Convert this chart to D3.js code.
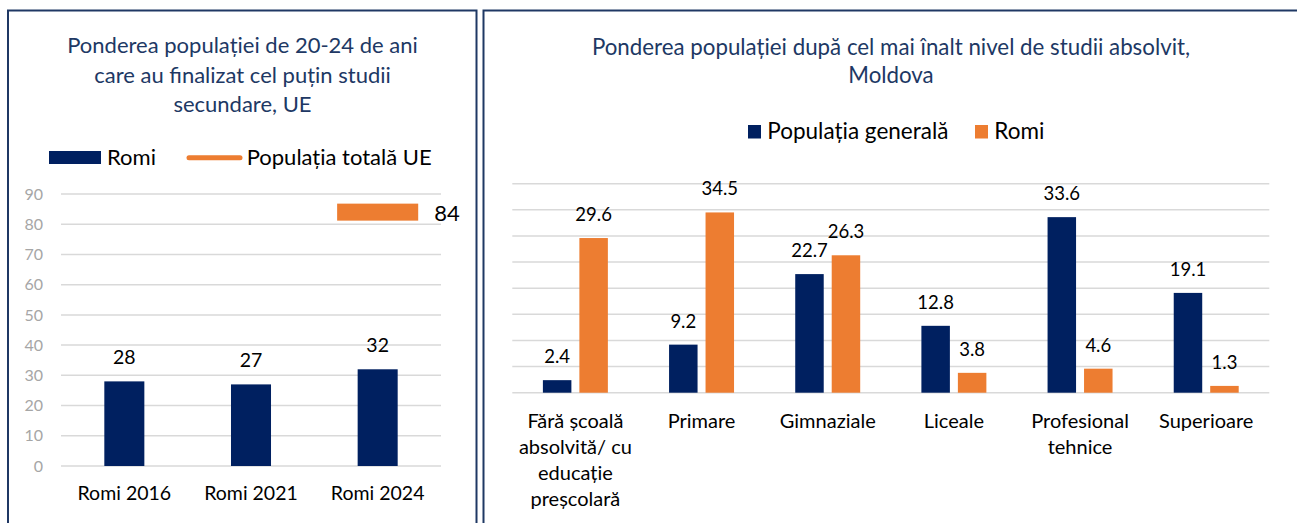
<!DOCTYPE html>
<html>
<head>
<meta charset="utf-8">
<script src="https://cdn.jsdelivr.net/npm/d3@7"></script>
<style>
  html, body { margin: 0; padding: 0; background: #ffffff; }
  svg { display: block; font-family: Lato, "Open Sans", sans-serif; }
</style>
</head>
<body>
<svg id="chart" width="1297" height="523"></svg>
<script>
// ---------- Data: left chart ----------
const leftTitle = ["Ponderea populației de 20-24 de ani", "care au finalizat cel puțin studii", "secundare, UE"];
const leftCategories = ["Romi 2016", "Romi 2021", "Romi 2024"];
const leftRomi = [28, 27, 32];
const euTotalCategory = "Romi 2024";
const euTotalValue = 84;
const leftTicks = [0, 10, 20, 30, 40, 50, 60, 70, 80, 90];
const leftLegend = ["Romi", "Populația totală UE"];

// ---------- Data: right chart ----------
const rightTitle = ["Ponderea populației după cel mai înalt nivel de studii absolvit,", "Moldova"];
const rightCategories = ["Fără școală absolvită/ cu educație preșcolară", "Primare", "Gimnaziale", "Liceale", "Profesional tehnice", "Superioare"];
const rightCategoryLines = [["Fără școală", "absolvită/ cu", "educație", "preșcolară"], ["Primare"], ["Gimnaziale"], ["Liceale"], ["Profesional", "tehnice"], ["Superioare"]];
const rightSeries = ["Populația generală", "Romi"];
const generalPop = [2.4, 9.2, 22.7, 12.8, 33.6, 19.1];
const romiPop = [29.6, 34.5, 26.3, 3.8, 4.6, 1.3];
const rightGrid = [0, 5, 10, 15, 20, 25, 30, 35, 40];

// ---------- Styles ----------
const NAVY = "#002060", ORANGE = "#ED7D31", GRID = "#D9D9D9", TITLE = "#203864", BORDER = "#1F3864";

const svg = d3.select("#chart");

// Panels
svg.append("rect").attr("x", 8).attr("y", 10.5).attr("width", 468.5).attr("height", 540)
  .attr("fill", "none").attr("stroke", BORDER).attr("stroke-width", 2);
svg.append("rect").attr("x", 483.5).attr("y", 10.5).attr("width", 840).attr("height", 540)
  .attr("fill", "none").attr("stroke", BORDER).attr("stroke-width", 2);

// ================= LEFT =================
const L = svg.append("g");
L.selectAll("text.title").data(leftTitle).join("text")
  .attr("x", 242.5).attr("y", (d, i) => 53 + i * 29.7)
  .attr("text-anchor", "middle").attr("fill", TITLE).attr("font-size", 22).text(d => d);

const lx = d3.scaleBand().domain(leftCategories).range([61, 441]).padding(0);
const ly = d3.scaleLinear().domain([0, 90]).range([466, 194]);

L.append("g").selectAll("line").data(leftTicks).join("line")
  .attr("x1", 61).attr("x2", 441).attr("y1", d => ly(d)).attr("y2", d => ly(d))
  .attr("stroke", GRID).attr("stroke-width", 1.5);

const lyAxis = d3.axisLeft(ly).tickValues(leftTicks).tickSize(0).tickPadding(0);
const lyG = L.append("g").attr("transform", "translate(43,0)").call(lyAxis);
lyG.select(".domain").remove();
lyG.selectAll("text").attr("fill", "#A6A6A6").attr("font-size", 16).attr("font-family", "Lato, sans-serif");

const lbw = lx.bandwidth() * 0.316;
L.selectAll("rect.bar").data(leftRomi).join("rect")
  .attr("x", (d, i) => lx(leftCategories[i]) + lx.bandwidth() / 2 - lbw / 2)
  .attr("y", d => ly(d)).attr("width", lbw).attr("height", d => ly(0) - ly(d)).attr("fill", NAVY);
L.selectAll("text.val").data(leftRomi).join("text")
  .attr("x", (d, i) => lx(leftCategories[i]) + lx.bandwidth() / 2)
  .attr("y", d => ly(d) - 17.7).attr("text-anchor", "middle").attr("font-size", 19.5).attr("fill", "#000").text(d => d);

// EU total marker
const mW = lx.bandwidth() * 0.64;
const mcx = lx(euTotalCategory) + lx.bandwidth() / 2;
L.append("rect").attr("x", mcx - mW / 2).attr("y", ly(euTotalValue) - 8.5).attr("width", mW).attr("height", 17).attr("fill", ORANGE);
L.append("text").attr("x", mcx + mW / 2 + 16).attr("y", ly(euTotalValue) + 9)
  .attr("font-size", 22).attr("fill", "#000").text(euTotalValue);

// x labels
const lxAxis = d3.axisBottom(lx).tickSize(0).tickPadding(0);
const lxG = L.append("g").attr("transform", "translate(0,485)").call(lxAxis);
lxG.select(".domain").remove();
lxG.selectAll("text").attr("fill", "#000").attr("font-size", 19.5).attr("font-family", "Lato, sans-serif").attr("dy", "0.76em");

// legend
L.append("rect").attr("x", 49).attr("y", 151).attr("width", 52).attr("height", 13).attr("fill", NAVY);
L.append("text").attr("x", 107).attr("y", 165).attr("font-size", 22).attr("fill", "#000").text(leftLegend[0]);
L.append("line").attr("x1", 189).attr("x2", 240).attr("y1", 157.7).attr("y2", 157.7)
  .attr("stroke", ORANGE).attr("stroke-width", 5).attr("stroke-linecap", "round");
L.append("text").attr("x", 246.7).attr("y", 165).attr("font-size", 22).attr("fill", "#000").text(leftLegend[1]);

// ================= RIGHT =================
const R = svg.append("g");
R.selectAll("text.title").data(rightTitle).join("text")
  .attr("x", 891).attr("y", (d, i) => 54.5 + i * 28)
  .attr("text-anchor", "middle").attr("fill", TITLE).attr("font-size", 22.3).text(d => d);

const rx0 = d3.scaleBand().domain(rightCategories).range([512.3, 1269.3]).padding(0);
const groupW = rx0.bandwidth() * 0.515;
const rx1 = d3.scaleBand().domain(rightSeries).range([-groupW / 2, groupW / 2]).paddingInner(0.219).paddingOuter(0);
const ry = d3.scaleLinear().domain([0, 40]).range([392.7, 183.7]);

R.append("g").selectAll("line").data(rightGrid).join("line")
  .attr("x1", 512.3).attr("x2", 1269.3).attr("y1", d => ry(d)).attr("y2", d => ry(d))
  .attr("stroke", GRID).attr("stroke-width", 1.5);

const seriesData = [generalPop, romiPop];
const seriesColor = [NAVY, ORANGE];
const barsData = [];
rightCategories.forEach((c, i) => {
  rightSeries.forEach((s, j) => barsData.push({ c, s, v: seriesData[j][i], color: seriesColor[j] }));
});
const cx = d => rx0(d.c) + rx0.bandwidth() / 2 + rx1(d.s);
R.selectAll("rect.bar").data(barsData).join("rect")
  .attr("x", d => cx(d)).attr("y", d => ry(d.v)).attr("width", rx1.bandwidth())
  .attr("height", d => ry(0) - ry(d.v)).attr("fill", d => d.color);
R.selectAll("text.val").data(barsData).join("text")
  .attr("x", d => cx(d) + rx1.bandwidth() / 2).attr("y", d => ry(d.v) - 17)
  .attr("text-anchor", "middle").attr("font-size", 18.5).attr("fill", "#000").text(d => d.v.toFixed(1));

// category labels
const catG = R.selectAll("g.cat").data(rightCategories).join("g")
  .attr("transform", d => `translate(${rx0(d) + rx0.bandwidth() / 2},0)`);
catG.each(function (d, i) {
  d3.select(this).selectAll("text").data(rightCategoryLines[i]).join("text")
    .attr("x", 0).attr("y", (t, k) => 428 + k * 26)
    .attr("text-anchor", "middle").attr("font-size", 20).attr("fill", "#000").text(t => t);
});

// legend
const legX = [748, 975];
const legTX = [767.3, 994.3];
rightSeries.forEach((s, j) => {
  R.append("rect").attr("x", legX[j]).attr("y", 125).attr("width", 13).attr("height", 13.5).attr("fill", seriesColor[j]);
  R.append("text").attr("x", legTX[j]).attr("y", 138.7).attr("font-size", 22.5).attr("fill", "#000").text(s);
});
</script>
</body>
</html>
